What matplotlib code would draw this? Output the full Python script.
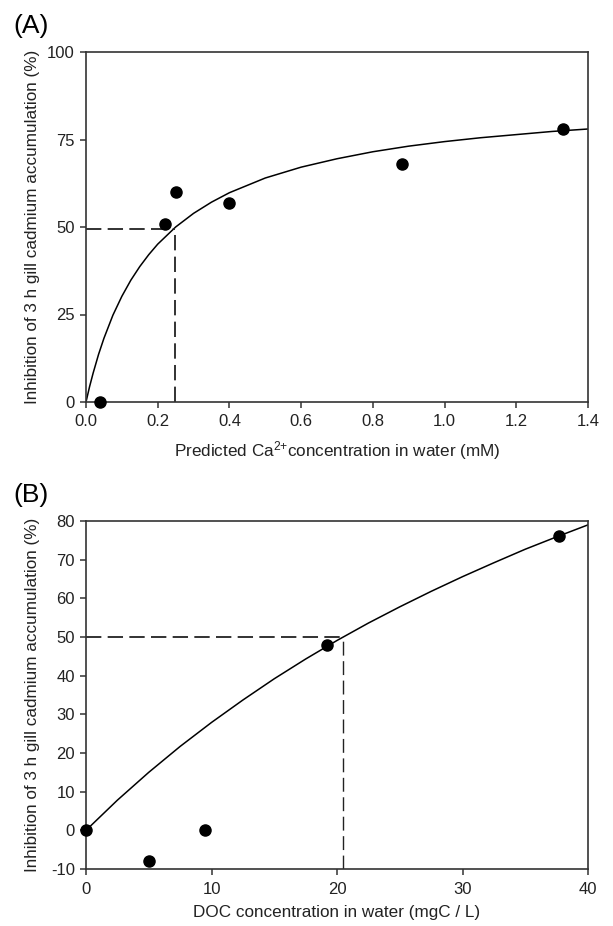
import numpy as np
import matplotlib
matplotlib.use("Agg")
from matplotlib import pyplot as plt

plt.rcParams['font.family'] = ['Liberation Sans', 'DejaVu Sans']
plt.rcParams['mathtext.fontset'] = 'custom'
plt.rcParams['mathtext.rm'] = 'Liberation Sans'
plt.rcParams['mathtext.default'] = 'regular'
plt.rcParams['axes.unicode_minus'] = False

# panel A : calcium
ca_x = [0.04, 0.22, 0.25, 0.40, 0.88, 1.33]
ca_y = [0, 51, 60, 57, 68, 78]
ca_fit_x = [0, 0.01, 0.02, 0.035, 0.05, 0.075, 0.1, 0.125, 0.15, 0.175, 0.2, 0.25, 0.3,
            0.35, 0.4, 0.5, 0.6, 0.7, 0.8, 0.9, 1.0, 1.1, 1.2, 1.3, 1.4]
ca_fit_y = [0, 4.4, 8.3, 13.6, 18.2, 24.8, 30.2, 34.8, 38.7, 42.1, 45.1, 50.0, 53.9,
            57.1, 59.8, 64.0, 67.1, 69.5, 71.5, 73.1, 74.4, 75.5, 76.4, 77.3, 78.0]
ca_ic50 = 0.247
ca_half = 49.5

# panel B : DOC
doc_x = [0, 5, 9.5, 19.2, 37.7]
doc_y = [0, -8, 0, 48, 76]
doc_fit_x = [0, 2.5, 5, 7.5, 10, 12.5, 15, 17.5, 20, 22.5, 25, 27.5, 30, 32.5, 35, 37.5, 40]
doc_fit_y = [0, 7.8, 15.0, 21.7, 27.9, 33.7, 39.2, 44.3, 49.1, 53.6, 57.8, 61.8, 65.6,
             69.2, 72.7, 75.9, 79.0]
doc_ic50 = 20.5
doc_half = 50

ylab = "Inhibition of 3 h gill cadmium accumulation (%)"
txt = '#222222'

fig = plt.figure(figsize=(6.13, 9.26), dpi=100, facecolor='w')
ax1 = fig.add_axes([86/613, 1-402/926, 502/613, 350/926])
ax2 = fig.add_axes([86/613, 1-869/926, 502/613, 348/926])


def style(ax):
    for s in ax.spines.values():
        s.set_linewidth(1.2)
        s.set_color('#333333')
    ax.tick_params(direction='out', length=4, width=1.1, labelsize=12,
                   colors='#333333', labelcolor=txt, top=False, right=False)
    ax.tick_params(axis='x', pad=5)
    ax.tick_params(axis='y', pad=4)
    ax.yaxis.set_label_coords(-0.092, 0.5)


# A
ax1.plot(ca_fit_x, ca_fit_y, color='black', lw=1.1)
ax1.plot([0, ca_ic50], [ca_half, ca_half], color='#222222', lw=1.3, dashes=(8.5, 3.5))
ax1.plot([ca_ic50, ca_ic50], [0, ca_half], color='#222222', lw=1.3, dashes=(8.5, 3.5))
ax1.plot(ca_x, ca_y, 'o', color='black', ms=8, clip_on=False, zorder=5)
ax1.set_xlim(0, 1.4)
ax1.set_ylim(0, 100)
ax1.set_xticks(np.arange(0, 1.41, 0.2))
ax1.set_xticklabels(['%.1f' % v for v in np.arange(0, 1.41, 0.2)])
ax1.set_yticks([0, 25, 50, 75, 100])
ax1.set_xlabel("Predicted Ca$^{2{+}}$concentration in water (mM)", fontsize=12.3, color=txt, labelpad=7)
ax1.set_ylabel(ylab, fontsize=12.3, color=txt)
style(ax1)

# B
ax2.plot(doc_fit_x, doc_fit_y, color='black', lw=1.1)
ax2.plot([0, doc_ic50], [doc_half, doc_half], color='#222222', lw=1.3, dashes=(8.5, 3.5))
ax2.plot([doc_ic50, doc_ic50], [-10, doc_half], color='#222222', lw=1.0, dashes=(10, 4))
ax2.plot(doc_x, doc_y, 'o', color='black', ms=8, clip_on=False, zorder=5)
ax2.set_xlim(0, 40)
ax2.set_ylim(-10, 80)
ax2.set_xticks([0, 10, 20, 30, 40])
ax2.set_yticks(range(-10, 81, 10))
ax2.set_xlabel("DOC concentration in water (mgC / L)", fontsize=12.3, color=txt, labelpad=6)
ax2.set_ylabel(ylab, fontsize=12.3, color=txt)
style(ax2)

fig.text(13/613, 1-26/926, "(A)", fontsize=19, color='black', va='center', ha='left')
fig.text(13/613, 1-495/926, "(B)", fontsize=19, color='black', va='center', ha='left')

plt.savefig("out.png", dpi=100)
